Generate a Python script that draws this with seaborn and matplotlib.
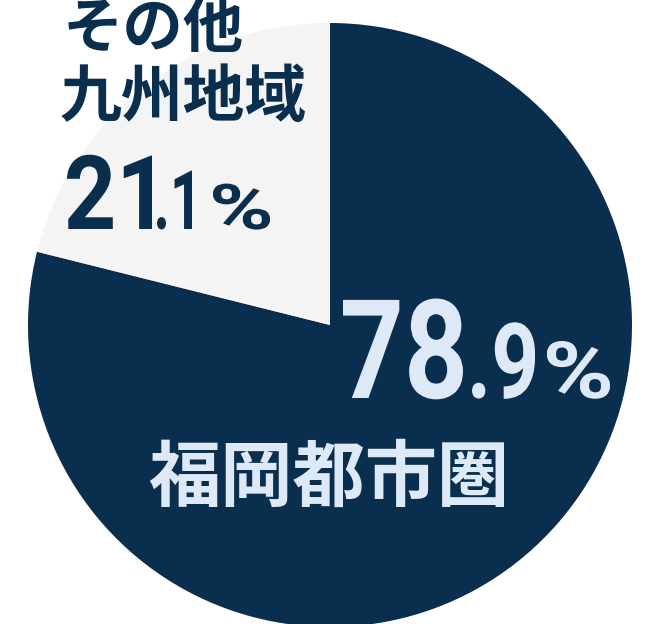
import matplotlib
matplotlib.use('Agg')
import matplotlib.pyplot as plt
import seaborn as sns
from matplotlib.textpath import TextPath
from matplotlib.patches import PathPatch
from matplotlib.font_manager import FontProperties
from matplotlib.transforms import Affine2D, IdentityTransform

# data
regions = ['福岡都市圏', 'その他\n九州地域']
shares = [78.9, 21.1]

DARK = '#0a2e4d'
LIGHT = '#f4f4f5'
PALE = '#dde9f6'

sns.set_style('white')
plt.rcParams['font.family'] = ['Noto Sans CJK JP', 'DejaVu Sans']

W, H = 660, 624
fig = plt.figure(figsize=(W / 100, H / 100), dpi=100)
ax = fig.add_axes([0, 0, 1, 1])

R = 302.0
cx, cy = 330.0, 325.0
ax.pie(shares, colors=[DARK, LIGHT], startangle=90, counterclock=False,
       radius=1.0, wedgeprops=dict(linewidth=0))
ax.set_xlim(-cx / R, (W - cx) / R)
ax.set_ylim(-(H - cy) / R, cy / R)
ax.set_aspect('auto')
ax.axis('off')


def fx(px):
    return px / W


def fy(py):
    return 1 - py / H


cjk = dict(family=['Noto Sans CJK JP', 'DejaVu Sans'], fontweight='bold')
num_font = FontProperties(family='Roboto', weight='bold')


def condensed(s, left, right, baseline, em, color):
    # digits in the original are a condensed face, so squeeze a text path to fit
    path = TextPath((0, 0), s, size=em, prop=num_font)
    bb = path.get_extents()
    sx = (right - left) / bb.width
    tr = Affine2D().translate(-bb.x0, 0).scale(sx, 1).translate(left, H - baseline)
    fig.add_artist(PathPatch(path, facecolor=color, edgecolor='none',
                             transform=tr + IdentityTransform()))


# small slice labels
top, bottom = regions[1].split('\n')
fig.text(fx(63), fy(29), top, color=DARK, fontsize=43.5, va='center', ha='left', **cjk)
fig.text(fx(60), fy(98), bottom, color=DARK, fontsize=44.5, va='center', ha='left', **cjk)

s_int, s_dec = f'{shares[1]:.1f}'.split('.')
condensed(s_int, 67, 152, 229, 103, DARK)
condensed('.' + s_dec, 157, 192, 229, 82, DARK)
condensed('%', 213, 270, 229, 63, DARK)

# big slice labels
b_int, b_dec = f'{shares[0]:.1f}'.split('.')
condensed(b_int, 343, 463, 398, 138, PALE)
condensed('.' + b_dec, 472, 535, 398, 105, PALE)
condensed('%', 547, 610, 398, 79, PALE)

fig.text(fx(148), fy(480), regions[0], color=PALE, fontsize=52, va='center', ha='left', **cjk)

fig.savefig('out.png', dpi=100, facecolor='white')
